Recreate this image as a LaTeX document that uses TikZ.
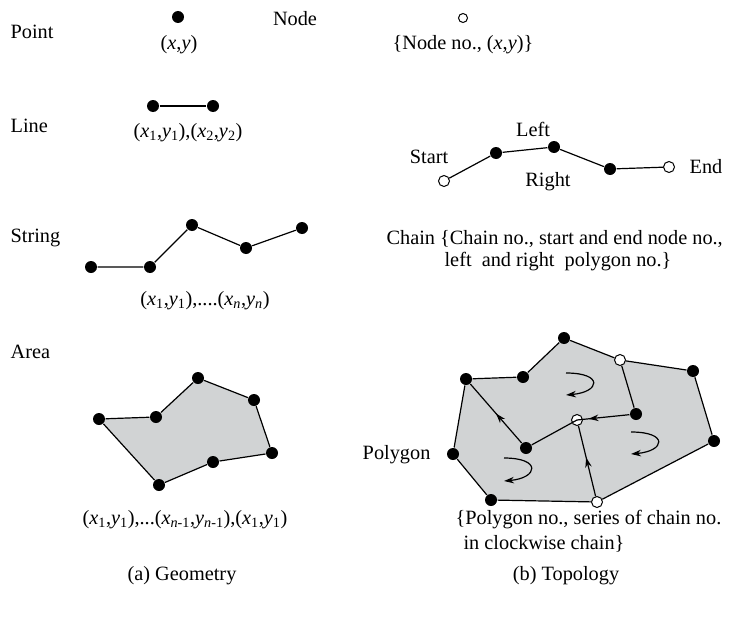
\documentclass[tikz,border=0pt]{standalone}
\usepackage{fontspec}
\setmainfont{Liberation Serif}
\usetikzlibrary{arrows.meta,decorations.markings,backgrounds}
\definecolor{areagray}{RGB}{209,211,212}
\newcommand{\vx}[1]{\textit{x}\textsubscript{#1}}
\newcommand{\vy}[1]{\textit{y}\textsubscript{#1}}
\begin{document}
\begin{tikzpicture}[x=1pt,y=-1pt, line width=1.2pt,
  font=\fontsize{20.3}{23}\selectfont,
  bdot/.style={circle,fill=black,inner sep=0pt,minimum size=12pt},
  wdot/.style={circle,draw=black,fill=white,inner sep=0pt,minimum size=11pt,line width=1pt},
  lbl/.style={inner sep=0pt,text=black},
  tip/.style={-{Stealth[length=10pt,width=6.5pt]}},
  midarrow/.style={postaction={decorate},decoration={markings,
     mark=at position #1 with {\arrow{Stealth[length=10pt,width=6.5pt]}}}}]
\useasboundingbox (0,0) rectangle (744,618);

% ---------- Geometry ----------
\node[lbl,anchor=west] (tPoint) at (10,32) {Point};
\node[bdot] (p0) at (178,17) {};
\node[lbl] (tpxy) at (179,45) {(\textit{x},\textit{y})};

\node[lbl,anchor=west] (tLine) at (10,126) {Line};
\node[bdot] (l1) at (153,106) {};
\node[bdot] (l2) at (213,106) {};
\draw (l1) -- (l2);
\node[lbl] (tlxy) at (188,133) {(\vx1,\vy1),(\vx2,\vy2)};

\node[lbl,anchor=west] (tString) at (10,238) {String};
\node[bdot] (s1) at (91,267) {};
\node[bdot] (s2) at (150,267) {};
\node[bdot] (s3) at (192,225) {};
\node[bdot] (s4) at (246,248) {};
\node[bdot] (s5) at (302,228) {};
\draw (s1) -- (s2) -- (s3) -- (s4) -- (s5);
\node[lbl] (tsxy) at (205,301) {(\vx1,\vy1),....(\vx{\textit{n}},\vy{\textit{n}})};

\node[lbl,anchor=west] (tArea) at (10,352) {Area};
\node[bdot] (a1) at (99,419) {};
\node[bdot] (a2) at (156,417) {};
\node[bdot] (a3) at (198,378) {};
\node[bdot] (a4) at (254,400) {};
\node[bdot] (a5) at (272,453) {};
\node[bdot] (a6) at (213,462) {};
\node[bdot] (a7) at (159,485) {};
\begin{scope}[on background layer]
  \fill[areagray] (a1.center) -- (a2.center) -- (a3.center) -- (a4.center)
    -- (a5.center) -- (a6.center) -- (a7.center) -- cycle;
\end{scope}
\draw (a1) -- (a2) -- (a3) -- (a4) -- (a5) -- (a6) -- (a7) -- (a1);
\node[lbl] (taxy) at (185,520) {(\vx1,\vy1),...(\vx{\textit{n}-1},\vy{\textit{n}-1}),(\vx1,\vy1)};

\node[lbl] (tGeo) at (182,576) {(a) Geometry};

% ---------- Topology ----------
\node[lbl] (tNode) at (295,19) {Node};
\node[wdot,minimum size=9pt] (n0) at (463,18) {};
\node[lbl] (tnxy) at (463,45) {\{Node no., (\textit{x},\textit{y})\}};

\node[wdot] (c0) at (444,181) {};
\node[bdot] (c1) at (496,153) {};
\node[bdot] (c2) at (554,147) {};
\node[bdot] (c3) at (610,169) {};
\node[wdot] (c4) at (669,167) {};
\draw (c0) -- (c1) -- (c2) -- (c3) -- (c4);
\node[lbl] (tStart) at (429,157) {Start};
\node[lbl] (tLeft) at (533,129) {Left};
\node[lbl] (tRight) at (548,182) {Right};
\node[lbl,anchor=west] (tEnd) at (689,167) {End};
\node[lbl,anchor=west] (tChain1) at (386,239) {Chain \{Chain no., start and end node no.,};
\node[lbl,anchor=west] (tChain2) at (444,262) {left\ \ and right\ \ polygon no.\}};

\node[bdot] (A) at (466,379) {};
\node[bdot] (B) at (523,377) {};
\node[bdot] (C) at (564,338) {};
\node[wdot] (D) at (620,360) {};
\node[bdot] (E) at (693,371) {};
\node[bdot] (F) at (714,441) {};
\node[wdot] (G) at (597,502) {};
\node[bdot] (H) at (491,500) {};
\node[bdot] (I) at (453,454) {};
\node[bdot] (J) at (526,448) {};
\node[wdot] (K) at (577,420) {};
\node[bdot] (L) at (636,414) {};
\begin{scope}[on background layer]
  \fill[areagray] (A.center) -- (B.center) -- (C.center) -- (D.center) -- (E.center)
    -- (F.center) -- (G.center) -- (H.center) -- (I.center) -- cycle;
\end{scope}
\draw (A) -- (B) -- (C) -- (D) -- (E) -- (F) -- (G) -- (H) -- (I) -- (A);
\draw (D) -- (L);
\draw[midarrow=0.5] (J) -- (A);
\draw[midarrow=0.55] (G) -- (K);
\draw[midarrow=0.78] (L) -- (K.center);
\draw (K.center) -- (J);

\coordinate (r1s) at (566,373);
\coordinate (r1e) at (566,395);
\coordinate (r2s) at (631,432);
\coordinate (r2e) at (631,454);
\coordinate (r3s) at (504,458);
\coordinate (r3e) at (504,481);
\draw[tip] (r1s) .. controls (604,373) and (600,392) .. (r1e);
\draw[tip] (r2s) .. controls (669,432) and (665,451) .. (r2e);
\draw[tip] (r3s) .. controls (542,458) and (538,478) .. (r3e);

\node[lbl,anchor=east] (tPoly) at (431,455) {Polygon};
\node[lbl,anchor=west] (tPoly1) at (455,520) {\{Polygon no., series of chain no.};
\node[lbl,anchor=west] (tPoly2) at (463,544) {in clockwise chain\}};

\node[lbl] (tTopo) at (566,576) {(b) Topology};
\end{tikzpicture}
\end{document}
